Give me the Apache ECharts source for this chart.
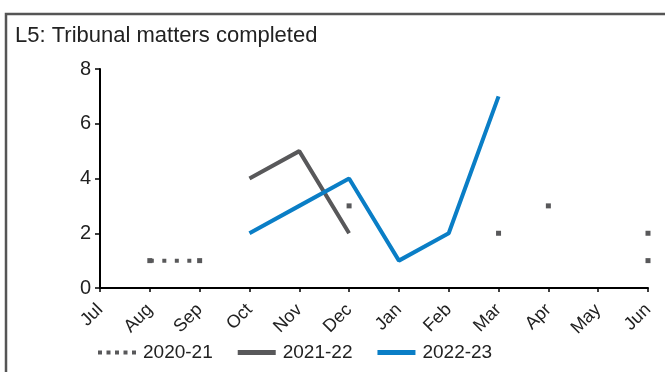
<!DOCTYPE html>
<html><head><meta charset="utf-8">
<script src="https://cdn.jsdelivr.net/npm/echarts@6/dist/echarts.min.js"></script>
<style>html,body{margin:0;padding:0;background:#fff}#c{width:665px;height:372px}</style>
</head><body><div id="c"></div>
<script>
const categories = ['Jul','Aug','Sep','Oct','Nov','Dec','Jan','Feb','Mar','Apr','May','Jun'];
const s2020a = [null,1,1,null,null,3,null,null,2,null,null,2];
const s2020b = [null,null,null,null,null,null,null,null,null,3,null,1];
const s2021 = [null,null,null,4,5,2,null,null,null,null,null,null];
const s2022 = [null,null,null,2,3,4,1,2,7,null,null,null];
const yTicks = [0,2,4,6,8];
const title = 'L5: Tribunal matters completed';

const gray = '#58585a', blue = '#0a7ec6';
const font = 'Liberation Sans, Arial, sans-serif';
const chart = echarts.init(document.getElementById('c'));
const dotted = {
  type:'line', name:'2020-21', connectNulls:false, showSymbol:true, symbol:'rect', symbolSize:5,
  itemStyle:{color:gray}, lineStyle:{color:gray, width:4, type:[4,8.5]}, silent:true
};
chart.setOption({
  animation:false,
  graphic:[
    {type:'rect', shape:{x:6,y:14,width:700,height:420}, style:{fill:'none', stroke:'#555', lineWidth:2.5}},
    {type:'text', left:15, top:25, style:{text:title, font:'22px '+font, fill:'#222'}}
  ],
  grid:{left:100, right:17, top:69, bottom:84},
  legend:{
    bottom:5, left:93, itemWidth:38, itemHeight:5, itemGap:25,
    textStyle:{fontFamily:font, fontSize:19, color:'#222', padding:[0,0,0,2]},
    data:[
      {name:'2020-21', icon:'path://M0,0h4v4h-4zM8.5,0h4v4h-4zM17,0h4v4h-4zM25.5,0h4v4h-4zM34,0h4v4h-4z', itemStyle:{color:gray}},
      {name:'2021-22', icon:'rect', itemStyle:{color:gray}},
      {name:'2022-23', icon:'rect', itemStyle:{color:blue}}
    ]
  },
  xAxis:{
    type:'category', data:categories, boundaryGap:false,
    axisLine:{lineStyle:{color:'#000', width:2}},
    axisTick:{show:true, length:4, alignWithLabel:true, lineStyle:{color:'#000', width:1.5}},
    axisLabel:{rotate:45, fontFamily:font, fontSize:18, color:'#222', margin:19, interval:0}
  },
  yAxis:{
    type:'value', min:yTicks[0], max:yTicks[yTicks.length-1], interval:2,
    splitLine:{show:false},
    axisLine:{show:true, lineStyle:{color:'#000', width:2}},
    axisTick:{show:true, inside:false, length:5, lineStyle:{color:'#000', width:1.5}},
    axisLabel:{fontFamily:font, fontSize:20, color:'#222', margin:9}
  },
  series:[
    Object.assign({}, dotted, {data:s2020a}),
    Object.assign({}, dotted, {data:s2020b}),
    {type:'line', name:'2021-22', data:s2021, showSymbol:false, lineStyle:{color:gray, width:4}, itemStyle:{color:gray}, silent:true},
    {type:'line', name:'2022-23', data:s2022, showSymbol:false, lineStyle:{color:blue, width:4}, itemStyle:{color:blue}, silent:true}
  ]
});
</script></body></html>
